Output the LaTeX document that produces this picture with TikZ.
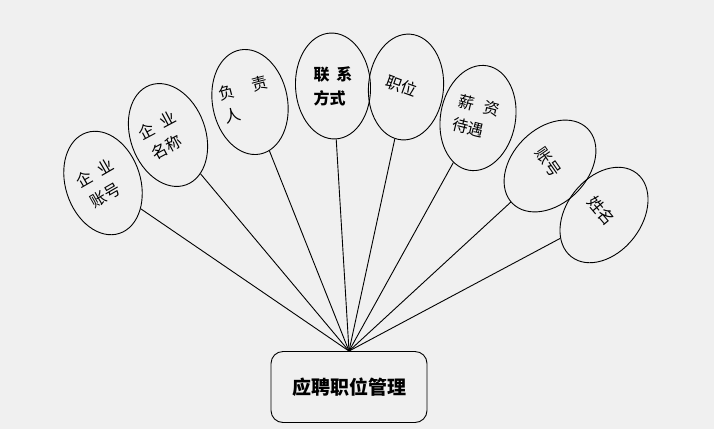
\documentclass[tikz,border=0pt]{standalone}
\usepackage{fontspec}
\newfontfamily\cjk{Noto Sans CJK SC}
\usetikzlibrary{shapes.geometric}

\begin{document}
\begin{tikzpicture}[x=1pt,y=-1pt,
    attr/.style={draw, ellipse, line width=0.9pt, minimum width=75pt, minimum height=106pt, inner sep=0pt},
    lbl/.style={font=\cjk\fontsize{16}{24}\selectfont, align=left, inner sep=0pt},
    link/.style={line width=0.9pt}]
    \fill[gray!12] (0,0) rectangle (714,429);
    \useasboundingbox (0,0) rectangle (714,429);

    % entity
    \node[draw, rounded corners=12pt, line width=0.9pt, minimum width=156pt, minimum height=71pt,
          font=\cjk\bfseries\fontsize{19}{22}\selectfont] (mgr) at (349,387) {应聘职位管理};

    % attributes
    \node[attr, rotate=18] (qzh) at (103,183) {};
    \node[attr, rotate=20] (qmc) at (168,135) {};
    \node[attr, rotate=11] (fzr) at (250,102) {};
    \node[attr, rotate=3] (lxfs) at (333,86) {};
    \node[attr, rotate=-5] (zw) at (406,87) {};
    \node[attr, rotate=-10] (xz) at (478,118) {};
    \node[attr, rotate=-45] (zh) at (550,166) {};
    \node[attr, rotate=-38] (xm) at (604,215) {};

    % labels
    \node[lbl, rotate=30] (qzh-t) at (101,184) {企\hspace{8pt}业\\\hspace{2pt}账号};
    \node[lbl, rotate=28] (qmc-t) at (163,136) {企\hspace{8pt}业\\\hspace{2pt}名称};
    \node[lbl, rotate=15] (fzr-t) at (246,100) {负\hspace{18pt}责\\人};
    \node[lbl, font=\cjk\bfseries\fontsize{16}{24}\selectfont] (lxfs-t) at (333,86) {联\hspace{7pt}系\\方式};
    \node[lbl, rotate=-20] (zw-t) at (402,86) {职位};
    \node[lbl, rotate=-14] (xz-t) at (476,117) {薪\hspace{10pt}资\\待遇};
    \node[lbl, rotate=-55] (zh-t) at (548,162) {账号};
    \node[lbl, rotate=-50] (xm-t) at (601,211) {姓名};

    % links
    \draw[link] (mgr.north) -- (qzh);
    \draw[link] (mgr.north) -- (qmc);
    \draw[link] (mgr.north) -- (fzr);
    \draw[link] (mgr.north) -- (lxfs);
    \draw[link] (mgr.north) -- (zw);
    \draw[link] (mgr.north) -- (xz);
    \draw[link] (mgr.north) -- (zh);
    \draw[link] (mgr.north) -- (xm);
\end{tikzpicture}
\end{document}
